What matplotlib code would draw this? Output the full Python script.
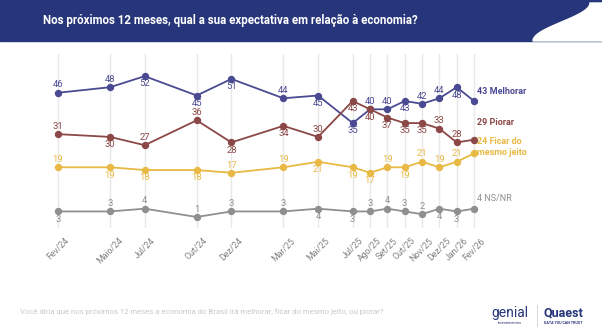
import matplotlib.pyplot as plt
from matplotlib.patches import Rectangle, Polygon
import numpy as np

plt.rcParams['font.family'] = ['Roboto', 'DejaVu Sans']

# Data (x = months since Fev/24)
months = [0, 3, 5, 8, 10, 13, 15, 17, 18, 19, 20, 21, 22, 23, 24]
tick_labels = ['Fev/24', 'Maio/24', 'Jul/24', 'Out/24', 'Dez/24', 'Mar/25', 'Mai/25',
               'Jul/25', 'Ago/25', 'Set/25', 'Out/25', 'Nov/25', 'Dez/25', 'Jan/26', 'Fev/26']
melhorar = [46, 48, 52, 45, 51, 44, 45, 35, 40, 40, 43, 42, 44, 48, 43]
piorar = [31, 30, 27, 36, 28, 34, 30, 43, 40, 37, 35, 35, 33, 28, 29]
ficar = [19, 19, 18, 18, 17, 19, 21, 19, 17, 19, 19, 21, 19, 21, 24]
nsnr = [3, 3, 4, 1, 3, 3, 4, 3, 3, 4, 3, 2, 4, 3, 4]

# label position: 1 above, -1 below (last point gets the end label)
pos_melhorar = [1, 1, -1, -1, -1, 1, -1, -1, 1, 1, -1, 1, 1, -1]
pos_piorar = [1, -1, 1, 1, -1, -1, 1, -1, -1, -1, -1, -1, 1, 1]
pos_ficar = [1, -1, -1, -1, 1, 1, -1, -1, -1, 1, -1, 1, 1, 1]
pos_nsnr = [-1, 1, 1, 1, 1, 1, -1, -1, 1, 1, 1, 1, -1, -1]

series = [
    (melhorar, pos_melhorar, '#4a4a92', '43 Melhorar', 7, 'bold'),
    (piorar, pos_piorar, '#8c4747', '29 Piorar', 12.5, 'bold'),
    (ficar, pos_ficar, '#e8b944', '24 Ficar do\nmesmo jeito', 4.5, 'bold'),
    (nsnr, pos_nsnr, '#8f8f8f', '4 NS/NR', 7, 'normal'),
]

fig = plt.figure(figsize=(6.02, 3.36), dpi=100)

# header band
fig.patches.append(Rectangle((0, 1 - 41 / 336), 1, 41 / 336, transform=fig.transFigure,
                             color='#27357a', zorder=0))
t = np.linspace(0, 1, 40)
cx = 533 + (590 - 533) * (0.5 - 0.5 * np.cos(np.pi * t))
cy = 41 - (41 - 3) * t
pts = [(x / 602, 1 - y / 336) for x, y in zip(cx, cy)]
pts += [(1, 1 - 3 / 336), (1, 1 - 41 / 336)]
fig.patches.append(Polygon(pts, closed=True, transform=fig.transFigure, color='white', zorder=1))
fig.text(43 / 602, 1 - 20 / 336, 'Nos próximos 12 meses, qual a sua expectativa em relação à economia?',
         color='white', fontsize=8.3, fontweight='bold', va='center', ha='left', zorder=2)

ax = fig.add_axes([40.7 / 602, 0.3214, 450.7 / 602, 0.5176])
ax.set_xlim(-1, 25)
ax.set_ylim(-3, 60)
for s in ax.spines.values():
    s.set_visible(False)
ax.set_yticks([])
ax.set_xticks(months)
ax.set_xticklabels(tick_labels, rotation=45, ha='center', va='top', fontsize=6.3, color='#808080')
ax.tick_params(axis='x', length=0, pad=6)
ax.grid(axis='x', color='#e8e8e8', linewidth=1)
ax.set_axisbelow(True)

for vals, pos, color, end_label, end_off, weight in series:
    ax.plot(months, vals, color=color, linewidth=1.3, marker='o', markersize=4.3, zorder=3)
    for x, v, p in zip(months[:-1], vals[:-1], pos):
        ax.annotate(str(v), (x, v), xytext=(0, 5.6 * p), textcoords='offset points',
                    ha='center', va='center', fontsize=6.8, color=color, zorder=4)
    ax.annotate(end_label, (months[-1], vals[-1]), xytext=(2, end_off), textcoords='offset points',
                ha='left', va='center', fontsize=6.5, color=color, fontweight=weight,
                linespacing=1.3, annotation_clip=False)

# footer
fig.text(20 / 602, 1 - 312 / 336,
         'Você diria que nos próximos 12 meses a economia do Brasil irá melhorar, ficar do mesmo jeito, ou piorar?',
         color='#c8c8d0', fontsize=5.6, va='center', ha='left')
fig.text(510 / 602, 1 - 313 / 336, 'genial', color='#27357a', fontsize=10, va='center', ha='center')
fig.text(510 / 602, 1 - 323.5 / 336, 'investimentos', color='#27357a', fontsize=2.8, va='center', ha='center')
fig.lines.append(plt.Line2D([537 / 602, 537 / 602], [1 - 305 / 336, 1 - 326 / 336],
                            transform=fig.transFigure, color='#d0d0d8', linewidth=0.6))
fig.text(563 / 602, 1 - 313 / 336, 'Quaest', color='#27357a', fontsize=9, fontweight='bold',
         va='center', ha='center')
fig.text(563 / 602, 1 - 323.5 / 336, 'DATA YOU CAN TRUST', color='#27357a', fontsize=2.6,
         fontweight='bold', va='center', ha='center')

fig.savefig('out.png', dpi=100, facecolor='white')
